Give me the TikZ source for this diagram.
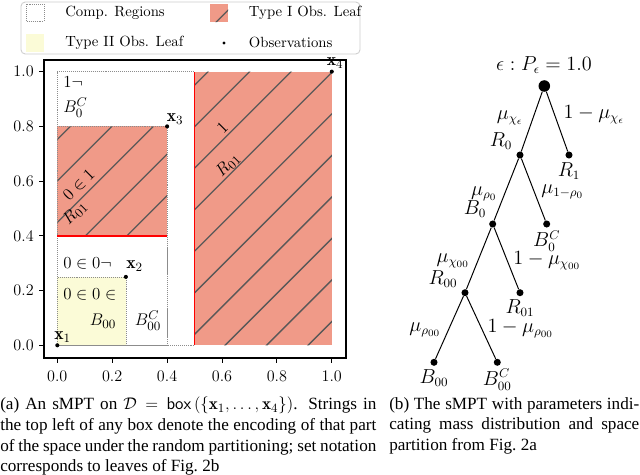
\documentclass[tikz,border=0pt]{standalone}
\usepackage{amsmath}
\usepackage{amssymb}
\usepackage{fontspec}
\usetikzlibrary{positioning}
\newfontfamily\capfont{Liberation Serif}
\definecolor{leafred}{RGB}{240,154,136}
\definecolor{leafyellow}{RGB}{251,251,215}
\definecolor{hatchgray}{RGB}{88,88,88}
\definecolor{regiongray}{RGB}{140,140,140}
\definecolor{legendgray}{RGB}{204,204,204}

\tikzset{
  region/.style={draw=regiongray,densely dotted,line width=0.4pt},
  cut/.style={draw=red,line width=1.1pt},
  hatchline/.style={draw=hatchgray,line width=0.95pt},
  obs/.style={circle,fill=black,inner sep=0pt,minimum size=2.9pt},
  axtick/.style={line width=0.6pt},
  ticklbl/.style={font=\fontsize{11.5}{13}\selectfont,inner sep=0pt},
  code/.style={font=\fontsize{12.5}{14}\selectfont,inner sep=0pt},
  leglbl/.style={font=\fontsize{10.5}{12}\selectfont,inner sep=0pt,anchor=west},
  leaf/.style={circle,fill=black,inner sep=0pt,minimum size=5pt},
  root/.style={circle,fill=black,inner sep=0pt,minimum size=8.2pt},
  treeedge/.style={line width=0.7pt},
  tlbl/.style={font=\fontsize{13.5}{15}\selectfont,inner sep=0pt},
  caption/.style={font=\capfont\fontsize{12.2}{14.6}\selectfont,inner sep=0pt,anchor=north west,align=left},
}

\begin{document}
\begin{tikzpicture}[x=0.025cm,y=-0.025cm]
	\useasboundingbox (0,0) rectangle (640,475);

	% legend
	\draw[legendgray,rounded corners=3pt,line width=0.6pt] (21,2) rectangle (360,54);
	\draw[region] (26,4) rectangle (44,21);
	\fill[leafred] (210,4) rectangle (228,22);
	\fill[leafyellow] (26,34) rectangle (44,52);
	\node[obs,minimum size=2.4pt] (legobs) at (224,43) {};
	\node[leglbl] (legcomp) at (65,12.7) {Comp. Regions};
	\node[leglbl] (legone) at (248.7,12.7) {Type I Obs. Leaf};
	\node[leglbl] (legtwo) at (65,42.7) {Type II Obs. Leaf};
	\node[leglbl] (legobsl) at (248.7,42.7) {Observations};

	% partition, data coordinates
	\begin{scope}[shift={(57.3,345.3)},x=6.86cm,y=6.84cm]
		\fill[leafred] (0.5,0) rectangle (1,1);
		\fill[leafred] (0,0.4) rectangle (0.4,0.8);
		\fill[leafyellow] (0,0) rectangle (0.25,0.25);
		\coordinate (ra1) at (0.5,0);
		\coordinate (ra2) at (1,1);
		\coordinate (rb1) at (0,0.4);
		\coordinate (rb2) at (0.4,0.8);
	\end{scope}

	% hatching of type I leaves
	\begin{scope}
		\clip (ra1) rectangle (ra2) (rb1) rectangle (rb2) (210,4) rectangle (228,22);
		\foreach \k in {-3,...,10}
			\draw[hatchline] ({570.3-41.5*\k},0) -- ++(-700,700);
	\end{scope}

	\begin{scope}[shift={(57.3,345.3)},x=6.86cm,y=6.84cm]
		\draw[region] (0,0) rectangle (0.5,1);
		\draw[region] (0,0) rectangle (0.4,0.8);
		\draw[region] (0,0) rectangle (0.4,0.4);
		\draw[region] (0,0) rectangle (0.25,0.25);
		\draw[cut] (0.5,0) -- (0.5,1);
		\draw[cut] (0,0.4) -- (0.4,0.4);

		% ticks
		\foreach \v/\t [count=\i] in {0/0.0,0.2/0.2,0.4/0.4,0.6/0.6,0.8/0.8,1/1.0}{
			\draw[axtick] (\v,-0.0464) -- ++(0,-0.018);
			\node[ticklbl,anchor=north] (xt\i) at (\v,-0.093) {\t};
			\draw[axtick] (-0.0485,\v) -- ++(-0.018,0);
			\node[ticklbl,anchor=east] (yt\i) at (-0.085,\v) {\t};
		}

		\node[obs] (x1) at (0,0) {};
		\node[obs] (x2) at (0.25,0.25) {};
		\node[obs] (x3) at (0.4,0.8) {};
		\node[obs] (x4) at (1,1) {};
	\end{scope}

	\draw[line width=0.9pt] (44,60) rectangle (346,358);

	% observation labels
	\node[code] (x1l) at (62.5,337) {$\mathbf{x}_1$};
	\node[code] (x2l) at (134.7,266) {$\mathbf{x}_2$};
	\node[code] (x3l) at (175,119) {$\mathbf{x}_3$};
	\node[code] (x4l) at (335,63) {$\mathbf{x}_4$};

	% encodings and sets
	\node[code,anchor=west] (c1n) at (63,82) {$1\neg$};
	\node[code,anchor=west] (B0cl) at (63,108) {$B_0^C$};
	\node[code,rotate=45] (c01) at (79,185) {$0\in 1$};
	\node[code,rotate=45] (R01a) at (75,213) {$R_{01}$};
	\node[code,rotate=45] (c1) at (222.5,127.5) {$1$};
	\node[code,rotate=45] (R01b) at (228,165) {$R_{01}$};
	\node[code,anchor=west] (c00n) at (63,263.5) {$0\in 0\neg$};
	\node[code,anchor=west] (c00) at (63,294) {$0\in 0\in$};
	\node[code] (B00l) at (103,321) {$B_{00}$};
	\node[code] (B00cl) at (148,321) {$B_{00}^C$};

	% tree
	\node[root] (eps) at (544.3,86) {};
	\node[leaf] (R0) at (520,155) {};
	\node[leaf] (R1) at (569,155) {};
	\node[leaf] (B0) at (492.7,224) {};
	\node[leaf] (B0c) at (546.7,224) {};
	\node[leaf] (R00) at (465,292.7) {};
	\node[leaf] (R01) at (520,292.7) {};
	\node[leaf] (B00) at (434,362.3) {};
	\node[leaf] (B00c) at (497.3,362.3) {};

	\draw[treeedge] (eps) -- (R0) (eps) -- (R1)
		(R0) -- (B0) (R0) -- (B0c)
		(B0) -- (R00) (B0) -- (R01)
		(R00) -- (B00) (R00) -- (B00c);

	\node[tlbl] (epst) at (544,65) {$\epsilon : P_\epsilon = 1.0$};
	\node[tlbl] (e1) at (510,118) {$\mu_{\chi_\epsilon}$};
	\node[tlbl] (e2) at (594,115) {$1-\mu_{\chi_\epsilon}$};
	\node[tlbl] (R0t) at (501,141) {$R_0$};
	\node[tlbl,below=2.5pt of R1] (R1t) {$R_1$};
	\node[tlbl] (e3) at (484,194) {$\mu_{\rho_0}$};
	\node[tlbl] (e4) at (562.5,192) {$\mu_{1-\rho_0}$};
	\node[tlbl] (B0t) at (475,209) {$B_0$};
	\node[tlbl,below=2pt of B0c] (B0ct) {$B_0^C$};
	\node[tlbl] (e5) at (453,261) {$\mu_{\chi_{00}}$};
	\node[tlbl] (e6) at (547,261) {$1-\mu_{\chi_{00}}$};
	\node[tlbl] (R00t) at (443,279) {$R_{00}$};
	\node[tlbl,below=2pt of R01] (R01t) {$R_{01}$};
	\node[tlbl] (e7) at (425,330) {$\mu_{\rho_{00}}$};
	\node[tlbl] (e8) at (520.5,329) {$1-\mu_{\rho_{00}}$};
	\node[tlbl,below=2pt of B00] (B00t) {$B_{00}$};
	\node[tlbl,below=2pt of B00c] (B00ct) {$B_{00}^C$};

	% captions
	\node[caption] (capa) at (0,397) {%
		\makebox[9.4cm][s]{(a) An sMPT on $\mathcal{D}=\mathsf{box}\left(\{\mathbf{x}_1,\ldots,\mathbf{x}_4\}\right)$. Strings in}\\
		\makebox[9.4cm][s]{the top left of any box denote the encoding of that part}\\
		\makebox[9.4cm][s]{of the space under the random partitioning; set notation}\\
		corresponds to leaves of Fig.~2b};
	\node[caption] (capb) at (389,397) {%
		\makebox[6.25cm][s]{(b) The sMPT with parameters indi-}\\
		\makebox[6.25cm][s]{cating mass distribution and space}\\
		partition from Fig.~2a};
\end{tikzpicture}
\end{document}
